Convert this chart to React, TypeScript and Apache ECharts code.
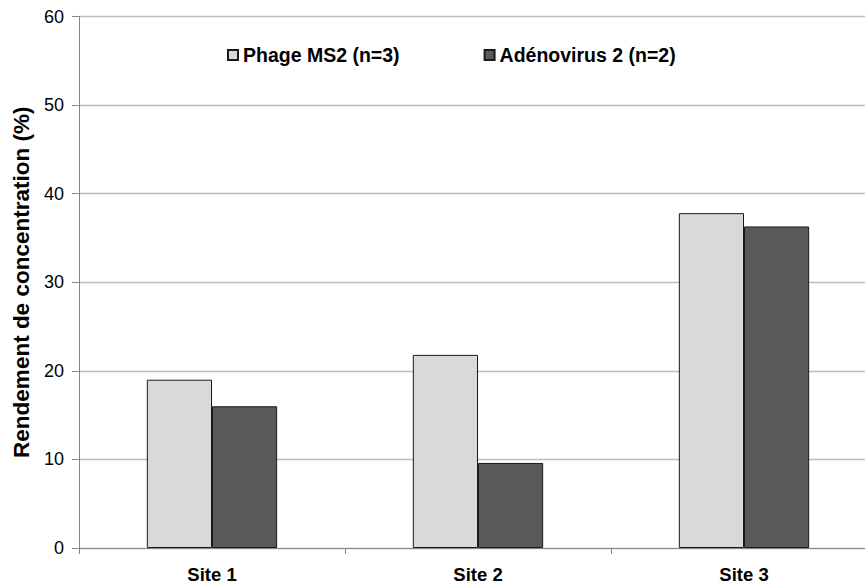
import React, { useEffect, useRef } from "react";
import * as echarts from "echarts";

const categories = ["Site 1", "Site 2", "Site 3"];
const phageMS2 = [19.0, 21.8, 37.8];
const adenovirus2 = [16.0, 9.6, 36.3];
const seriesNames = ["Phage MS2 (n=3)", "Adénovirus 2 (n=2)"];
const yTitle = "Rendement de concentration (%)";

const FONT = "'Liberation Sans', Arial, sans-serif";

export default function App() {
  const ref = useRef<HTMLDivElement>(null);
  useEffect(() => {
    if (!ref.current) return;
    const chart = echarts.init(ref.current, undefined, { renderer: "svg" });
    chart.setOption({
      animation: false,
      backgroundColor: "#ffffff",
      textStyle: { fontFamily: FONT },
      legend: {
        left: 222,
        top: 40,
        itemWidth: 10,
        itemHeight: 10,
        itemGap: 84,
        icon: "rect",
        textStyle: { fontFamily: FONT, fontSize: 19.5, fontWeight: "bold", color: "#000" },
        data: seriesNames,
      },
      grid: { left: 79, top: 16.5, bottom: 39, right: 0, containLabel: false },
      xAxis: {
        type: "category",
        data: categories,
        axisLine: { lineStyle: { color: "#868686", width: 1 } },
        axisTick: { show: true, length: 6, lineStyle: { color: "#868686" } },
        axisLabel: { fontFamily: FONT, fontSize: 18.5, fontWeight: "bold", color: "#000", margin: 17 },
      },
      yAxis: {
        type: "value",
        min: 0,
        max: 60,
        interval: 10,
        name: yTitle,
        nameLocation: "middle",
        nameRotate: 90,
        nameGap: 45,
        nameTextStyle: { fontFamily: FONT, fontSize: 22.5, fontWeight: "bold", color: "#000" },
        axisLine: { show: true, lineStyle: { color: "#868686", width: 1 } },
        axisTick: { show: true, length: 7, lineStyle: { color: "#868686" } },
        axisLabel: { fontFamily: FONT, fontSize: 18, color: "#000", margin: 15 },
        splitLine: { show: true, lineStyle: { color: "#bdbdbd", width: 1.3 } },
      },
      series: [
        {
          name: seriesNames[0],
          type: "bar",
          data: phageMS2,
          barGap: "0%",
          barCategoryGap: "51%",
          itemStyle: { color: "#d9d9d9", borderColor: "#1a1a1a", borderWidth: 1 },
        },
        {
          name: seriesNames[1],
          type: "bar",
          data: adenovirus2,
          barGap: "0%",
          barCategoryGap: "51%",
          itemStyle: { color: "#595959", borderColor: "#1a1a1a", borderWidth: 1 },
        },
      ],
    });
    return () => chart.dispose();
  }, []);
  return (
    <div style={{ position: "fixed", left: 0, top: 0, width: 865, height: 587, overflow: "hidden", background: "#fff" }}>
      <div ref={ref} style={{ width: 877, height: 587 }} />
    </div>
  );
}
